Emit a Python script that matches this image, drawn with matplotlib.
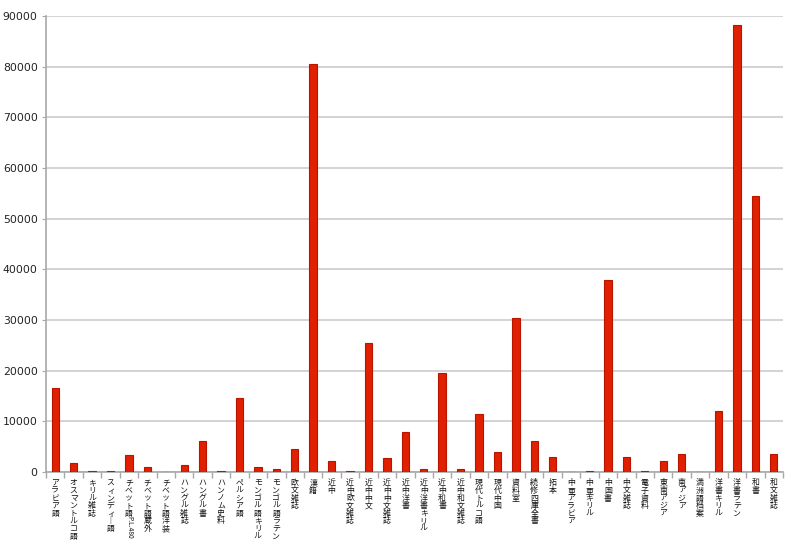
import matplotlib
matplotlib.use("Agg")
import matplotlib.pyplot as plt
import numpy as np

plt.rcParams['font.family'] = ['Noto Sans CJK JP', 'DejaVu Sans']

categories = [
    "アラビア語", "オスマントルコ語", "キリル雑誌", "スィンディー語", "チベット語P.L.480",
    "チベット語蔵外", "チベット語洋装", "ハングル雑誌", "ハングル書", "ハンノム史料",
    "ペルシア語", "モンゴル語キリル", "モンゴル語ラテン", "欧文雑誌", "漢籍",
    "近中", "近中欧文雑誌", "近中中文", "近中中文雑誌", "近中洋書",
    "近中洋書キリル", "近中和書", "近中和文雑誌", "現代トルコ語", "現代中国",
    "資料室", "続修四庫全書", "拓本", "中亜アラビア", "中亜キリル",
    "中国書", "中文雑誌", "電子資料", "東南アジア", "南アジア",
    "満洲語档案", "洋書キリル", "洋書ラテン", "和書", "和文雑誌",
]
values = [
    16500, 1800, 200, 100, 3450,
    1000, 30, 1400, 6150, 100,
    14700, 1070, 600, 4570, 80500,
    2200, 100, 25400, 2800, 7900,
    600, 19600, 550, 11400, 3900,
    30400, 6050, 2900, 50, 100,
    37900, 3050, 100, 2200, 3650,
    30, 12100, 88200, 54500, 3500,
]
yticks = [0, 10000, 20000, 30000, 40000, 50000, 60000, 70000, 80000, 90000]

fig = plt.figure(figsize=(8.0, 5.47), dpi=100)
ax = fig.add_axes([46/800, 1-472/547, (783-46)/800, (472-16)/547])

x = np.arange(len(categories))
ax.bar(x, values, width=0.4, color='#e02000', edgecolor='#b81500', linewidth=0.8, zorder=3)

ax.set_xlim(-0.5, len(categories) - 0.5)
ax.set_ylim(0, 90000)
ax.set_yticks(yticks)
ax.set_yticklabels([str(v) for v in yticks], fontsize=7.8, family='DejaVu Sans', color='#222222')
ax.yaxis.grid(True, color='#c8c8c8', linewidth=1.1, zorder=0)
ax.tick_params(axis='y', length=3, color='#a8a8a8', pad=3)

ax.set_xticks(x)
ax.set_xticklabels([])
ax.tick_params(axis='x', which='major', length=0)
ax.set_xticks(np.arange(len(categories) + 1) - 0.5, minor=True)
ax.tick_params(axis='x', which='minor', length=4, color='#a8a8a8', width=1)

for s in ['top', 'right']:
    ax.spines[s].set_visible(False)
for s in ['left', 'bottom']:
    ax.spines[s].set_color('#a8a8a8')
    ax.spines[s].set_linewidth(1.2)

fs = 5.7
step = 5.5
for i, lab in enumerate(categories):
    off = 4.5
    j = 0
    while j < len(lab):
        ch = lab[j]
        if ord(ch) < 128:
            k = j
            while k < len(lab) and ord(lab[k]) < 128:
                k += 1
            run = lab[j:k]
            ax.annotate(run, xy=(i, 0), xycoords=('data', 'axes fraction'),
                        xytext=(0.5, -off), textcoords='offset points',
                        rotation=-90, ha='center', va='top', fontsize=4.8,
                        color='#111111', annotation_clip=False)
            off += len(run) * 4.8 * 0.5
            j = k
        else:
            disp = '｜' if ch == 'ー' else ch
            ax.annotate(disp, xy=(i, 0), xycoords=('data', 'axes fraction'),
                        xytext=(0, -off), textcoords='offset points',
                        ha='center', va='top', fontsize=fs,
                        color='#111111', annotation_clip=False)
            off += step
            j += 1

fig.savefig('out.png', dpi=100)
